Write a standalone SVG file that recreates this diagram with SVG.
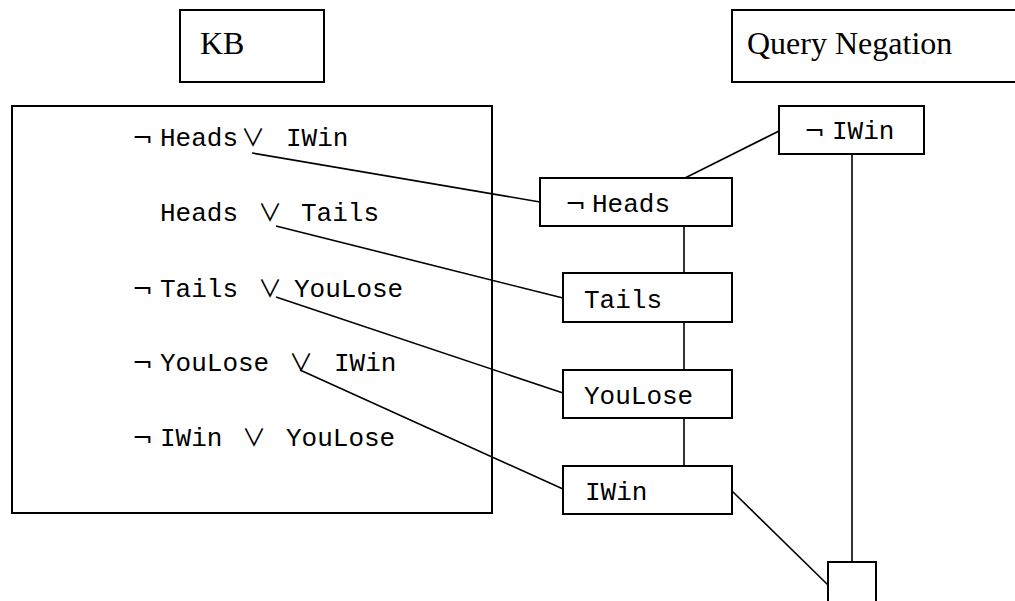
<svg xmlns="http://www.w3.org/2000/svg" width="1015" height="601" viewBox="0 0 1015 601">
<style>
  .box { fill: #fff; stroke: #000; stroke-width: 2; }
  .frame { fill: none; stroke: #000; stroke-width: 2; }
  .ln { stroke: #000; stroke-width: 1.6; fill: none; }
  .title { font-family: "Liberation Serif", "Times New Roman", serif; font-size: 32px; fill: #000; }
  .mono { font-family: "Liberation Mono", "Courier New", monospace; font-size: 26px; fill: #000; }
  .sym { font-family: "DejaVu Sans", sans-serif; font-size: 25px; }
  .or { font-family: "Noto Sans CJK JP", "DejaVu Sans", sans-serif; font-size: 24px; }
</style>
<rect width="1015" height="601" fill="#fff"/>
<g id="connectors">
  <line class="ln" x1="252" y1="153" x2="540" y2="202"/>
  <line class="ln" x1="276" y1="226" x2="563" y2="298"/>
  <line class="ln" x1="276" y1="297" x2="563" y2="393"/>
  <line class="ln" x1="300" y1="370" x2="563" y2="489"/>
  <line class="ln" x1="685" y1="178" x2="779" y2="131"/>
  <line class="ln" x1="684" y1="226" x2="684" y2="273"/>
  <line class="ln" x1="684" y1="322" x2="684" y2="370"/>
  <line class="ln" x1="684" y1="418" x2="684" y2="466"/>
  <line class="ln" x1="852" y1="154" x2="852" y2="562"/>
  <line class="ln" x1="732" y1="491" x2="828" y2="585"/>
</g>
<g id="kb-label">
  <rect class="box" x="180" y="10" width="144" height="72"/>
  <text class="title" x="200" y="54">KB</text>
</g>
<g id="query-label">
  <rect class="box" x="732" y="10" width="300" height="72"/>
  <text class="title" x="747" y="54">Query Negation</text>
</g>
<g id="kb">
  <rect class="frame" x="12" y="106" width="480" height="407"/>
  <text class="mono" y="146"><tspan class="sym" x="132">¬</tspan><tspan x="160">Heads</tspan><tspan class="or" x="241">∨</tspan><tspan x="286">IWin</tspan></text>
  <text class="mono" y="221"><tspan x="160">Heads</tspan><tspan class="or" x="258">∨</tspan><tspan x="301">Tails</tspan></text>
  <text class="mono" y="297"><tspan class="sym" x="132">¬</tspan><tspan x="160">Tails</tspan><tspan class="or" x="258">∨</tspan><tspan x="294">YouLose</tspan></text>
  <text class="mono" y="371"><tspan class="sym" x="132">¬</tspan><tspan x="160">YouLose</tspan><tspan class="or" x="289">∨</tspan><tspan x="334">IWin</tspan></text>
  <text class="mono" y="446"><tspan class="sym" x="132">¬</tspan><tspan x="160">IWin</tspan><tspan class="or" x="242">∨</tspan><tspan x="286">YouLose</tspan></text>
</g>
<g id="not-iwin">
  <rect class="box" x="779" y="106" width="145" height="48"/>
  <text class="mono" y="139"><tspan class="sym" x="804">¬</tspan><tspan x="832">IWin</tspan></text>
</g>
<g id="not-heads">
  <rect class="box" x="540" y="178" width="192" height="48"/>
  <text class="mono" y="212"><tspan class="sym" x="565">¬</tspan><tspan x="592">Heads</tspan></text>
</g>
<g id="tails">
  <rect class="box" x="563" y="273" width="169" height="49"/>
  <text class="mono" x="584" y="308">Tails</text>
</g>
<g id="youlose">
  <rect class="box" x="563" y="370" width="169" height="48"/>
  <text class="mono" x="584" y="404">YouLose</text>
</g>
<g id="iwin">
  <rect class="box" x="563" y="466" width="169" height="48"/>
  <text class="mono" x="585" y="500">IWin</text>
</g>
<g id="empty">
  <rect class="box" x="828" y="562" width="48" height="60"/>
</g>
</svg>
